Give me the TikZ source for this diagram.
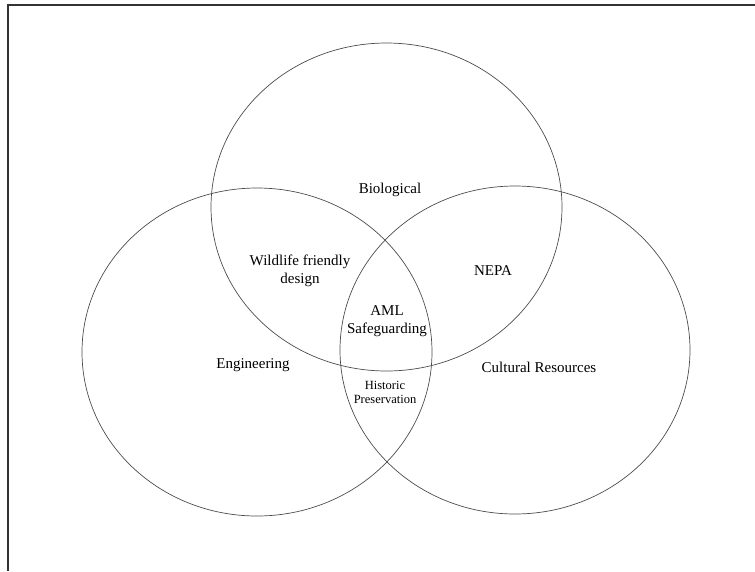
\documentclass[tikz,border=0pt]{standalone}
\usepackage{fontspec}
\setmainfont{Liberation Serif}
\usetikzlibrary{positioning}

\begin{document}
\begin{tikzpicture}[x=1pt, y=-1pt,
	set/.style={draw=black!70, line width=0.7pt},
	lbl/.style={font=\fontsize{15}{18}\selectfont, align=center, inner sep=0pt},
	small/.style={font=\fontsize{12.5}{14}\selectfont, align=center, inner sep=0pt}]
	\useasboundingbox (0,0) rectangle (755,571);
	\draw[line width=1.6pt, black!80] (8,571) -- (8,5) -- (755,5);

	\draw[set] (386.5,207) ellipse (175.5 and 164);
	\draw[set] (257,352) ellipse (175 and 164);
	\draw[set] (515,350) ellipse (175 and 164);

	\node[lbl] (bio) at (390,190) {Biological};
	\node[lbl] (wild) at (300,271) {Wildlife friendly\\design};
	\node[lbl] (nepa) at (493,271) {NEPA};
	\node[lbl] (aml) at (387,321) {AML\\Safeguarding};
	\node[lbl] (eng) at (253,365) {Engineering};
	\node[lbl] (cult) at (539,367) {Cultural Resources};
	\node[small] (hist) at (385,392) {Historic\\Preservation};
\end{tikzpicture}
\end{document}
